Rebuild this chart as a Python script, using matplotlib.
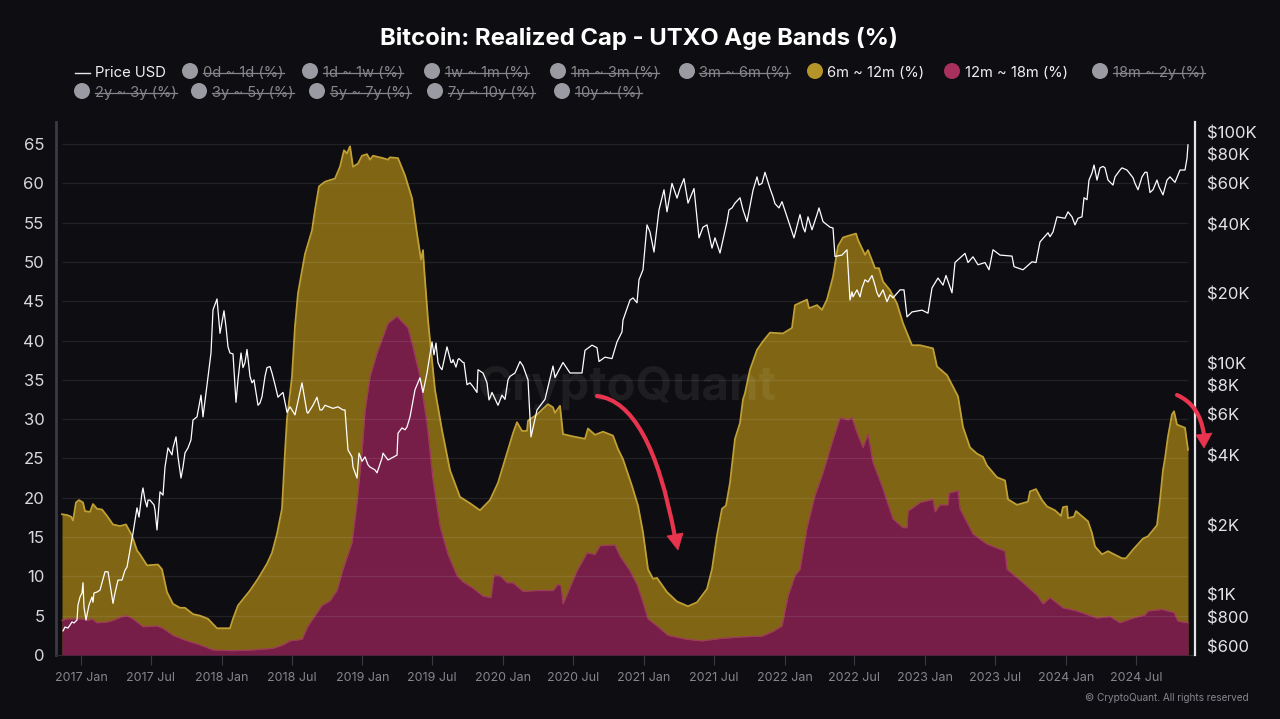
import numpy as np
import pandas as pd
import matplotlib
matplotlib.use("Agg")
import matplotlib.pyplot as plt
from matplotlib.path import Path
from matplotlib.patches import PathPatch, Polygon, Ellipse
from matplotlib.lines import Line2D

# Time is stored as a count of 2.596-day steps since the first sample
START = pd.Timestamp("2016-11-12")
STEP_DAYS = 2.596

gold_steps = [0,5,9,11,14,17,21,23,28,31,35,40,45,51,58,64,70,75,78,85,96,100,105,111,118,123,131,138,146,155,160,168,171,176,181,188,196,205,210,215,220,223,225,
230,233,236,243,250,253,257,263,273,278,282,285,288,291,296,300,305,308,311,321,326,328,336,343,350,355,359,361,362,366,371,373,380,388,398,408,418,428,436,445,451,455,460,465,466,475,486,491,493,498,501,511,523,526,533,541,551,556,561,570,576,581,586,591,595,605,615,626,635,645,650,655,660,664,668,673,678,681,683,688,695,701,708,721,730,733,745,747,755,760,765,771,776,781,786,794,796,803,806,813,817,821,828,835,841,850,858,871,875,885,896,901,908,915,921,925,935,943,946,955,966,968,974,980,985,993,999,1001,1005,1006,1012,1014,1026,1030,1033,1040,1046,1060,1064,1071,1081,1086,1095,1098,1101,1103,1106,1110,1112,1115,1123,1126]
gold_values = [17.9,17.8,17.6,17.1,19.4,19.7,19.4,18.3,18.2,19.2,18.6,18.5,17.7,16.6,16.4,16.6,15.2,13.3,12.8,11.4,11.5,10.9,8,6.5,6.0,6,5.2,5.0,4.6,3.4,3.4,3.4,4.6,6.3,7.1,8.2,9.7,11.6,13,15.4,18.6,25.8,30,
35.4,41.8,46,51,54,56.6,59.6,60.2,60.6,62.1,64.2,63.8,64.7,62.1,62.5,63.5,63.7,63,63.5,63.2,63,63.3,63.2,61,58.1,53.6,50.3,51.5,49.4,42.6,36.3,33.7,28.6,23.5,20.1,19.3,18.4,19.7,21.9,25.7,28.2,29.6,28.5,28.5,29.8,30.6,31.9,31.5,30.8,31.7,28.1,27.8,27.5,28.8,28,28.4,27.9,26.2,24.9,21.5,19,15.6,10.9,9.7,9.8,8,6.8,6.2,6.7,8.4,10.9,15.2,18.6,19,21.9,27.5,29.5,32.5,33.3,36.3,38.8,39.9,41,40.9,41.6,44.5,45.2,44.1,44.5,43.9,45.2,48.1,52,53.1,53.3,53.6,52.8,50.9,51.5,49.2,49.2,47.5,46.4,44.7,42.2,39.4,39.4,39,36.7,35.6,32.9,29,26.4,25.6,25.2,24.1,22.6,22.2,19.8,19.1,19.5,20.8,21.1,19.7,18.9,18.4,17.7,18.8,18.9,17.4,17.6,18.3,17,15.5,13.8,12.8,13.2,12.3,12.3,13.4,14.8,15.1,16.5,19.7,23.5,25,27.8,30.6,31,29.3,28.9,26.1]

maroon_steps = [0,5,15,20,26,30,35,45,51,60,65,71,81,95,101,111,125,138,151,171,191,211,221,228,240,246,260,268,275,281,290,295,300,303,308,315,321,326,335,340,346,351,358,365,371,378,386,395,401,410,421,429,432,438,445,451,461,475,491,496,499,501,506,515,525,533,538,553,558,568,575,581,586,595,606,625,640,658,678,700,711,720,726,733,738,745,753,761,770,778,786,790,795,801,806,811,820,831,841,845,846,858,871,873,878,886,887,896,898,911,925,943,945,961,975,981,988,1001,1015,1035,1048,1058,1071,1083,1086,1100,1112,1116,1126]
maroon_values = [4.4,4.6,4.6,4.6,4.4,4.6,4.1,4.2,4.4,4.9,5,4.6,3.6,3.7,3.4,2.5,1.8,1.3,0.65,0.55,0.65,0.85,1.3,1.8,2,3.7,6.3,6.9,8.2,10.9,14.3,19.4,25.8,31,35.4,38.4,40.5,42.2,43.1,42.4,41.6,39.2,35.4,29.5,22.3,16.4,12.8,10.1,9.3,8.6,7.5,7.3,10.2,10.1,9.2,9.2,8.1,8.2,8.2,9,8.8,6.5,8,10.7,13,12.8,13.9,14,12.6,10.7,9,6.7,4.6,3.7,2.5,2,1.8,2.1,2.3,2.4,3,3.7,7.5,10.1,10.9,16.2,20.3,23.2,27,30.2,29.9,30.2,28.3,26.4,28.1,24.5,21.5,17.3,16.2,16.2,18.3,19.4,19.8,18.2,19.1,19.1,20.6,20.9,18.6,15.4,14.1,13.2,10.9,9.2,7.6,6.5,7.3,6,5.6,4.7,4.9,4.1,4.7,5.1,5.6,5.8,5.4,4.3,4.1]

price_steps = [1,3,6,10,15,18,21,22,24,27,31,35,38,43,46,51,56,63,68,71,75,81,85,88,92,95,98,101,106,110,114,119,123,126,131,135,139,141,145,149,151,155,158,162,168,171,174,179,181,185,190,196,200,205,208,213,216,221,225,228,233,240,246,255,258,263,281,283,286,290,295,297,303,308,315,321,326,335,336,345,348,353,358,361,365,370,372,374,378,385,390,396,401,405,415,416,423,428,436,443,446,458,466,469,475,483,491,493,501,508,520,523,530,535,537,543,550,555,560,561,568,571,575,577,581,585,588,592,597,602,605,610,615,618,622,626,632,637,641,645,650,653,658,665,670,678,685,691,695,700,703,713,720,726,732,738,743,746,750,757,765,771,773,780,785,788,795,798,803,810,815,821,825,831,838,842,845,850,860,866,870,876,881,884,890,893,903,906,911,916,923,927,931,938,950,952,961,970,974,978,991,995,1006,1013,1020,1022,1025,1027,1032,1035,1038,1043,1046,1051,1058,1065,1071,1076,1083,1088,1095,1101,1108,1113,1118,1123,1125,1126]
price_values = [700,727,720,765,780,980,1130,887,780,905,930,1030,1050,1260,1260,920,1160,1280,1560,1850,2380,2900,2400,2570,2450,1910,2790,2700,4320,4030,4820,3200,4110,4320,5700,5880,7300,5880,8080,11100,17050,19000,13500,16900,11100,11000,6800,11100,9600,11500,8250,6600,7180,9600,9700,8100,7150,7500,6150,6500,6000,8250,6100,7150,6300,6600,6300,6300,4230,3950,3200,4100,3950,3570,3370,4100,3830,4020,5000,5320,5880,7700,8680,7500,9100,12400,10900,12250,9650,11800,10100,10400,10100,8100,7500,9400,8680,7100,6600,7000,8500,10200,8500,4820,6300,7000,9750,8700,10100,9100,9100,11400,12000,11700,10200,10650,10500,12400,13700,15400,18800,19200,18300,23000,25400,39700,37000,30300,46100,56300,45200,60000,51800,57000,62900,49300,57000,34900,38800,39700,31500,34900,30000,41000,47000,52000,41000,56000,64000,60000,67000,49000,50000,41800,34900,44000,37000,43000,37800,47000,39700,38500,29000,29400,31000,18800,20800,19400,23000,24000,20200,20800,18500,19200,20800,20800,15900,16700,17000,16500,21200,23400,21800,24000,20200,27300,29900,27300,28900,26700,27300,25400,31000,29400,29100,26200,25400,27500,27300,33500,37000,43000,45200,39700,43000,52000,51000,62000,72000,62000,70000,70000,62000,59000,68500,68500,63500,56300,67000,54800,62000,53500,64000,60600,68500,68500,77000,88000]

# Further price readings between the turning points above
price_detail_steps = [12,16,20,30,32,40,49,53,60,65,77,80,83,86,93,103,111,116,121,129,164,166,176,183,188,192,198,203,210,218,230,245,251,260,271,276,291,300,306,313,320,340,343,376,380,389,391,394,397,402,408,411,421,425,427,430,440,448,453,461,667,673,681,697,708,711,717,741,755,761,768,790,791,800,806,813,817,828,986,988,1003,1010,1016,1030,1041,1053,1060,1073,1080,1085,1091,1097,1105]
price_detail_values = [757,905,1020,980,1020,1130,1050,1020,1160,1320,2170,2760,2570,2570,2330,3570,4320,3950,3570,4680,14400,11800,8500,10100,8800,8500,6750,8800,9100,7300,6300,6150,6600,6300,6400,6500,3570,3780,3650,3470,3900,5270,5170,10100,9400,10100,10400,9650,10500,10100,8250,7950,9100,8250,6960,7500,7300,8800,9100,9750,46100,49300,46100,59000,57000,52500,47000,38800,44000,41000,38800,20400,19400,21200,22500,21800,19400,19800,36700,35300,42400,43000,42400,66500,71000,64000,70000,60000,64000,67000,56300,58000,62000]

left_ticks = [0,5,10,15,20,25,30,35,40,45,50,55,60,65]
right_ticks = [600,800,1000,2000,4000,6000,8000,10000,20000,40000,60000,80000,100000]
right_labels = ["$600","$800","$1K","$2K","$4K","$6K","$8K","$10K","$20K","$40K","$60K","$80K","$100K"]
date_ticks = ["2017-01-01","2017-07-01","2018-01-01","2018-07-01","2019-01-01","2019-07-01","2020-01-01","2020-07-01","2021-01-01","2021-07-01","2022-01-01","2022-07-01","2023-01-01","2023-07-01","2024-01-01","2024-07-01"]
date_labels = ["2017 Jan","2017 Jul","2018 Jan","2018 Jul","2019 Jan","2019 Jul","2020 Jan","2020 Jul","2021 Jan","2021 Jul","2022 Jan","2022 Jul","2023 Jan","2023 Jul","2024 Jan","2024 Jul"]
legend_row1 = ["0d ~ 1d (%)","1d ~ 1w (%)","1w ~ 1m (%)","1m ~ 3m (%)","3m ~ 6m (%)","6m ~ 12m (%)","12m ~ 18m (%)","18m ~ 2y (%)"]
legend_row2 = ["2y ~ 3y (%)","3y ~ 5y (%)","5y ~ 7y (%)","7y ~ 10y (%)","10y ~ (%)"]
active = {"6m ~ 12m (%)":"#b5942a", "12m ~ 18m (%)":"#a8305c"}

def to_dates(steps):
    return START + pd.to_timedelta(np.asarray(steps, dtype=float) * STEP_DAYS, unit="D")

W, H = 1280, 719
BG = "#0e0e12"
plt.rcParams["font.family"] = ["Inter", "DejaVu Sans"]

fig = plt.figure(figsize=(12.8, 7.19), dpi=100, facecolor=BG)
def fx(p): return p / W
def fy(p): return 1 - p / H

L, R, T, B = 56, 1195, 122, 655
ax = fig.add_axes([fx(L), fy(B), fx(R - L), (B - T) / H], facecolor=BG)

x_left = START + pd.Timedelta(days=(L - 62) * STEP_DAYS)
x_right = START + pd.Timedelta(days=(R - 62) * STEP_DAYS)
ax.set_xlim(x_left, x_right)
ax.set_ylim(0, (B - T) / 7.862)

order = np.argsort(np.array(price_steps + price_detail_steps), kind="stable")
price_all_steps = np.array(price_steps + price_detail_steps)[order]
price_all_values = np.array(price_values + price_detail_values)[order]

gx, mx, px_ = to_dates(gold_steps), to_dates(maroon_steps), to_dates(price_all_steps)

ax.fill_between(gx, 0, gold_values, color="#806614", lw=0, zorder=2)
ax.plot(gx, gold_values, color="#c0a035", lw=1.3, zorder=2.1)
ax.fill_between(mx, 0, maroon_values, color="#761d48", lw=0, zorder=3)
ax.plot(mx, maroon_values, color="#a03a5c", lw=0.9, zorder=3.1)

ax.hlines(left_ticks[1:], gx[0], gx[-1], color="#ffffff", alpha=0.085, lw=0.9, zorder=4)

ax.set_yticks(left_ticks)
ax.set_yticklabels([str(v) for v in left_ticks], color="#d8d8dc", fontsize=12)
ax.tick_params(axis="y", length=0, pad=8.4)
ax.set_xticks(pd.to_datetime(date_ticks))
ax.set_xticklabels(date_labels, color="#85858c", fontsize=9)
ax.tick_params(axis="x", length=7, width=0.8, color="#3a3a42", pad=5)

for s in ["top", "right"]:
    ax.spines[s].set_visible(False)
ax.spines["left"].set_color("#3c3a44")
ax.spines["left"].set_linewidth(2)
ax.spines["bottom"].set_color("#2a2a30")
ax.spines["bottom"].set_linewidth(0.8)

ax2 = ax.twinx()
ax2.set_yscale("log")
ax2.set_ylim(1000 * 10 ** ((595 - B) / 231.5), 1000 * 10 ** ((595 - T) / 231.5))
ax2.plot(px_, price_all_values, color="#ffffff", lw=0.9, zorder=6)
ax2.set_yticks(right_ticks)
ax2.set_yticklabels(right_labels, color="#e4e4e8", fontsize=12)
ax2.minorticks_off()
ax2.tick_params(axis="y", length=0, pad=9)
for s in ["top", "left", "bottom"]:
    ax2.spines[s].set_visible(False)
ax2.spines["right"].set_color("#e6e6e6")
ax2.spines["right"].set_linewidth(1.6)

# Watermark
fig.text(fx(627), fy(388), "CryptoQuant", color="#ffffff", alpha=0.065, fontsize=34,
         fontweight="bold", ha="center", va="center", zorder=5)

# Title
fig.text(fx(638.5), fy(38), "Bitcoin: Realized Cap - UTXO Age Bands (%)", color="#ffffff",
         fontsize=17.2, fontweight="bold", ha="center", va="center")

# Legend
fig.add_artist(Line2D([fx(75), fx(90)], [fy(72.5), fy(72.5)], color="#e8e8ea", lw=1))
fig.text(fx(95), fy(73), "Price USD", color="#f0f0f2", fontsize=10.7, va="center")
row1_pos = [(190, 203), (310, 323), (432, 445), (558, 571), (687, 699), (815, 827), (952, 965), (1100, 1113)]
row2_pos = [(82, 95), (199, 212), (317, 330), (435, 448), (562, 575)]
renderer = fig.canvas.get_renderer()
for labels, pos, yy in [(legend_row1, row1_pos, 73), (legend_row2, row2_pos, 93)]:
    for lab, (mk, tx) in zip(labels, pos):
        on = lab in active
        col = active.get(lab, "#9a9aa2")
        fig.add_artist(Ellipse((fx(mk), fy(yy - 2)), 16 / W, 16 / H, color=col, lw=0))
        t = fig.text(fx(tx), fy(yy), lab, color="#f0f0f2" if on else "#85858c",
                     fontsize=10.6, va="center")
        if not on:
            bb = t.get_window_extent(renderer)
            fig.add_artist(Line2D([bb.x0 / W, bb.x1 / W], [fy(yy), fy(yy)], color="#85858c", lw=0.9))

# Copyright
fig.text(fx(1249), fy(698), "\u00a9 CryptoQuant. All rights reserved", color="#85858c",
         fontsize=7.2, ha="right", va="center")

# Arrows
RED = "#e8344e"
def arrow(curve, head):
    verts = [(fx(a), fy(b)) for a, b in curve]
    codes = [Path.MOVETO] + [Path.CURVE3] * (len(verts) - 1)
    fig.add_artist(PathPatch(Path(verts, codes), fc="none", ec=RED, lw=3,
                             transform=fig.transFigure, zorder=20, capstyle="round"))
    fig.add_artist(Polygon([(fx(a), fy(b)) for a, b in head], closed=True, fc=RED, ec=RED, lw=0.5,
                           transform=fig.transFigure, zorder=21))

arrow([(597, 396), (650, 402), (675, 537)], [(667, 536), (683, 533), (678, 550)])
arrow([(1177, 395), (1200, 405), (1204, 435)], [(1196, 435), (1212, 433), (1204, 448)])

fig.savefig("out.png", dpi=100, facecolor=BG)
